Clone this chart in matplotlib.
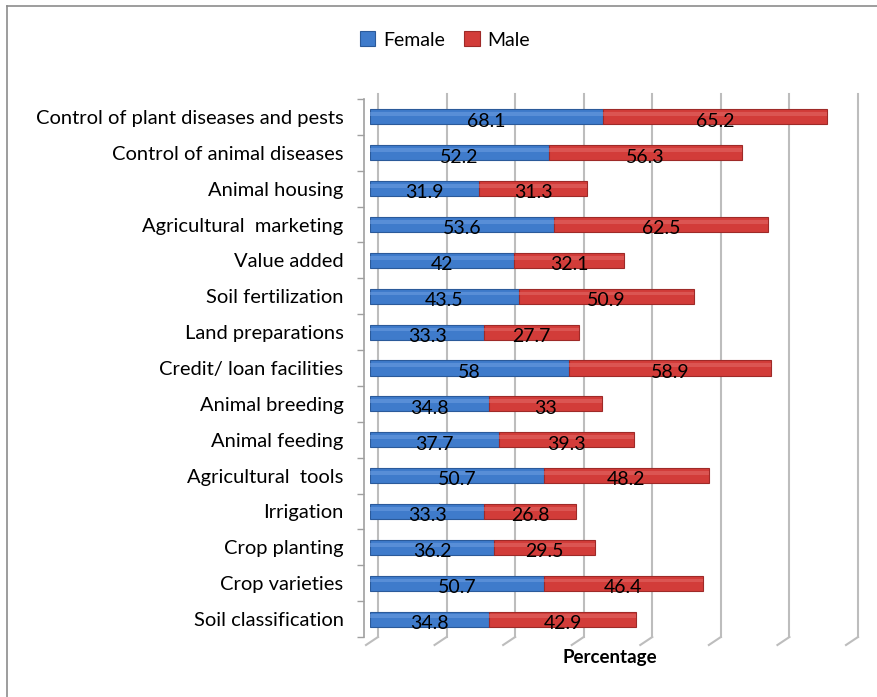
import matplotlib
matplotlib.use("Agg")
import matplotlib.pyplot as plt
import matplotlib.transforms as mtransforms
from matplotlib.lines import Line2D
import numpy as np

categories = [
    "Control of plant diseases and pests",
    "Control of animal diseases",
    "Animal housing",
    "Agricultural  marketing",
    "Value added",
    "Soil fertilization",
    "Land preparations",
    "Credit/ loan facilities",
    "Animal breeding",
    "Animal feeding",
    "Agricultural  tools",
    "Irrigation",
    "Crop planting",
    "Crop varieties",
    "Soil classification",
]
female = [68.1, 52.2, 31.9, 53.6, 42, 43.5, 33.3, 58, 34.8, 37.7, 50.7, 33.3, 36.2, 50.7, 34.8]
male = [65.2, 56.3, 31.3, 62.5, 32.1, 50.9, 27.7, 58.9, 33, 39.3, 48.2, 26.8, 29.5, 46.4, 42.9]
female_labels = ["68.1", "52.2", "31.9", "53.6", "42", "43.5", "33.3", "58", "34.8", "37.7", "50.7", "33.3", "36.2", "50.7", "34.8"]
male_labels = ["65.2", "56.3", "31.3", "62.5", "32.1", "50.9", "27.7", "58.9", "33", "39.3", "48.2", "26.8", "29.5", "46.4", "42.9"]
series_names = ["Female", "Male"]
x_max = 140
x_step = 20

plt.rcParams["font.family"] = ["Lato", "DejaVu Sans"]

W, H = 877, 697
fig = plt.figure(figsize=(W / 100, H / 100), dpi=100)
ax = fig.add_axes([370 / W, 1 - 637 / H, 480 / W, 538 / H])

y = np.arange(len(categories))
blue = "#3F7BCB"
red = "#D23C39"
bh = 0.42
ax.barh(y, female, height=bh, color=blue, edgecolor="#2B5A9A", linewidth=0.8, zorder=3, label=series_names[0])
ax.barh(y, male, left=female, height=bh, color=red, edgecolor="#9E2A28", linewidth=0.8, zorder=3, label=series_names[1])
# highlight stripe for 3D look
ax.barh(y - bh * 0.18, female, height=bh * 0.25, color="#6A9BE0", linewidth=0, zorder=3.5, alpha=0.6)
ax.barh(y - bh * 0.18, male, left=female, height=bh * 0.25, color="#E26664", linewidth=0, zorder=3.5, alpha=0.6)

for i in range(len(categories)):
    ax.text(female[i] / 2, y[i] + 0.12, female_labels[i], ha="center", va="center", fontsize=14, color="black", zorder=5)
    ax.text(female[i] + male[i] / 2, y[i] + 0.12, male_labels[i], ha="center", va="center", fontsize=14, color="black", zorder=5)

ax.set_xlim(0, x_max)
ax.set_ylim(len(categories) - 0.5, -0.5)
ax.set_yticks(y)
ax.set_yticklabels(categories)
ax.set_yticks(np.arange(-0.5, len(categories), 1), minor=True)
ax.tick_params(axis="y", which="major", length=0, pad=15, labelsize=14.5)
ax.tick_params(axis="y", which="minor", length=5, color="#A0A0A0", width=1)
ax.set_xticks(np.arange(0, x_max + 1, x_step))
ax.set_xticklabels([])
ax.tick_params(axis="x", length=0)
for s in ["top", "right", "bottom"]:
    ax.spines[s].set_visible(False)
ax.spines["left"].set_color("#A0A0A0")
ax.spines["left"].set_linewidth(1.2)
ax.spines["left"].set_position(("outward", 4))

# gridlines (back wall) with slanted floor feet
trans = ax.get_xaxis_transform()
t_up = mtransforms.offset_copy(trans, fig=fig, x=8, y=0, units="dots")
fig.canvas.draw()
inv = fig.transFigure.inverted()
y0 = ax.transAxes.transform([(0, 0)])[0][1]
for gx in np.arange(0, x_max + 1, x_step):
    ax.add_line(Line2D([gx, gx], [0.0, 1.01], transform=t_up, color="#BDBDBD", lw=1.5, zorder=1, clip_on=False))
    xd = ax.transData.transform([(gx, 0)])[0][0]
    p1 = inv.transform([(xd + 8, y0)])[0]
    p2 = inv.transform([(xd - 4, y0 - 8)])[0]
    fig.add_artist(Line2D([p1[0], p2[0]], [p1[1], p2[1]], transform=fig.transFigure, color="#BDBDBD", lw=1.5))

ax.set_xlabel("Percentage", fontsize=13.5, fontweight="bold", labelpad=5)

fig.legend(loc="center", bbox_to_anchor=(445 / W, 1 - 40 / H), ncol=2, frameon=False,
           fontsize=14, handlelength=0.8, handleheight=0.8, handletextpad=0.4, columnspacing=1.0)

# chart border (left and top visible)
fig.add_artist(Line2D([7 / W, 7 / W], [0, 1 - 6 / H], transform=fig.transFigure, color="#8C8C8C", lw=1.2))
fig.add_artist(Line2D([7 / W, 1], [1 - 6 / H, 1 - 6 / H], transform=fig.transFigure, color="#8C8C8C", lw=1.2))

fig.savefig("out.png", dpi=100)
